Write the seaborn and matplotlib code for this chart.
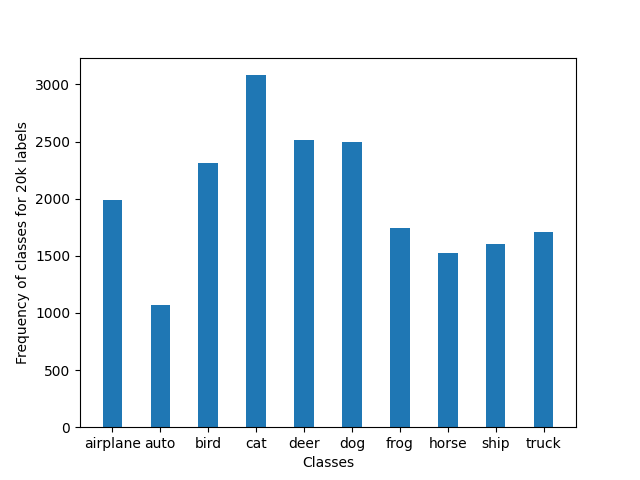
import matplotlib
matplotlib.use("Agg")
import matplotlib.pyplot as plt
import seaborn as sns
import pandas as pd

# class counts for the 20k labelled subset
classes = ['airplane', 'auto', 'bird', 'cat', 'deer',
           'dog', 'frog', 'horse', 'ship', 'truck']
counts = [1989, 1072, 2313, 3081, 2513, 2496, 1745, 1527, 1605, 1710]

df = pd.DataFrame({'class': classes, 'count': counts})

fig, ax = plt.subplots(figsize=(6.4, 4.8), dpi=100)
sns.barplot(data=df, x='class', y='count', color='#1f77b4',
            saturation=1, width=0.4, ax=ax)

# mimic plain matplotlib bar margins
ax.set_xlim(-0.2 - 0.047 * 10, 9.2 + 0.047 * 10)
ax.set_xlabel('Classes')
ax.set_ylabel('Frequency of classes for 20k labels')

fig.savefig('out.png', dpi=100)
